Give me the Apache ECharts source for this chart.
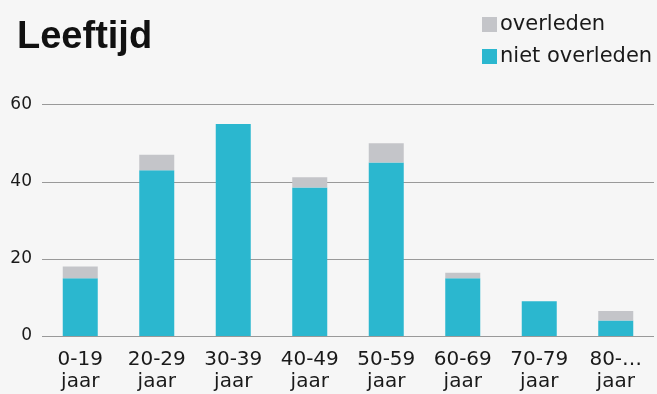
<!DOCTYPE html>
<html>
<head>
<meta charset="utf-8">
<script src="https://cdn.jsdelivr.net/npm/echarts@6/dist/echarts.min.js"></script>
<style>
  html, body { margin: 0; padding: 0; background: #f6f6f6; }
  #chart { width: 657px; height: 394px; }
</style>
</head>
<body>
<div id="chart"></div>
<script>
// Age groups (two-line labels)
var categories = ['0-19\njaar', '20-29\njaar', '30-39\njaar', '40-49\njaar',
                  '50-59\njaar', '60-69\njaar', '70-79\njaar', '80-…\njaar'];
// Survivors per age group
var nietOverleden = [15, 43, 55, 38.5, 45, 15, 9, 4];
// Deaths per age group
var overleden = [3, 4, 0, 2.7, 5, 1.4, 0, 2.5];
// Value axis ticks
var yTicks = [0, 20, 40, 60];

var chart = echarts.init(document.getElementById('chart'), null, { renderer: 'canvas' });

chart.setOption({
  backgroundColor: '#f6f6f6',
  animation: false,
  title: {
    text: 'Leeftijd',
    left: 17,
    top: 19,
    padding: 0,
    textStyle: {
      fontFamily: 'Liberation Sans',
      fontWeight: 'bold',
      fontSize: 38,
      lineHeight: 38,
      color: '#111111'
    }
  },
  legend: {
    orient: 'vertical',
    left: 482,
    top: 14,
    padding: 0,
    itemWidth: 15,
    itemHeight: 15,
    itemGap: 11,
    icon: 'rect',
    data: ['overleden', 'niet overleden'],
    textStyle: {
      fontFamily: 'DejaVu Sans',
      fontSize: 21,
      lineHeight: 21,
      color: '#1a1a1a',
      padding: [0, 0, 0, -2]
    }
  },
  grid: {
    left: 42,
    right: 3,
    top: 104.7,
    bottom: 58,
    containLabel: false
  },
  xAxis: {
    type: 'category',
    data: categories,
    axisLine: { show: false },
    axisTick: { show: false },
    axisLabel: {
      margin: 13,
      interval: 0,
      fontFamily: 'DejaVu Sans',
      fontSize: 20,
      lineHeight: 22,
      color: '#1a1a1a'
    }
  },
  yAxis: {
    type: 'value',
    min: yTicks[0],
    max: yTicks[yTicks.length - 1],
    interval: yTicks[1] - yTicks[0],
    axisLine: { show: false },
    axisTick: { show: false },
    splitLine: { lineStyle: { color: '#999999', width: 1.2 } },
    axisLabel: {
      margin: 10,
      fontFamily: 'DejaVu Sans',
      fontSize: 17,
      color: '#1a1a1a'
    }
  },
  series: [
    {
      name: 'niet overleden',
      type: 'bar',
      stack: 'totaal',
      barWidth: 35,
      data: nietOverleden,
      itemStyle: { color: '#2bb7cf' }
    },
    {
      name: 'overleden',
      type: 'bar',
      stack: 'totaal',
      barWidth: 35,
      data: overleden,
      itemStyle: { color: '#c4c5c9' }
    }
  ]
});
</script>
</body>
</html>
